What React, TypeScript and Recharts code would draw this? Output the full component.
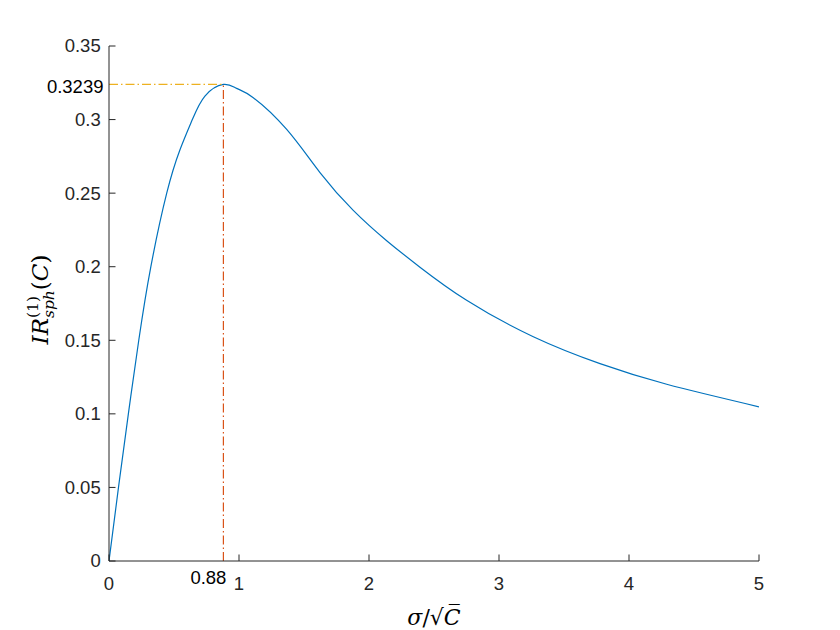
import React from 'react';
import { LineChart, Line, XAxis, YAxis, ReferenceLine } from 'recharts';

// values
const sigma = [0, 0.073, 0.149, 0.229, 0.322, 0.444, 0.546, 0.641, 0.738, 0.88, 0.982, 1.11, 1.367, 1.623, 1.879, 2.136, 2.392, 2.751, 3.264, 3.777, 4.29, 5];
const irValues = [0, 0.05, 0.1, 0.15, 0.2, 0.25, 0.2795, 0.3, 0.316, 0.3239, 0.3212, 0.3149, 0.2933, 0.264, 0.2383, 0.2177, 0.1997, 0.1772, 0.1524, 0.1341, 0.1201, 0.1048];

const xTicks = [0, 1, 2, 3, 4, 5];
const yTicks = [0, 0.05, 0.1, 0.15, 0.2, 0.25, 0.3, 0.35];
const peakX = 0.88;
const peakY = 0.3239;
const peakXLabel = '0.88';
const peakYLabel = '0.3239';

const data = sigma.map((s, i) => ({ x: s, y: irValues[i] }));

const axisColor = '#262626';
const tickFont = '"Liberation Sans", Arial, sans-serif';
const mathFont = '"DejaVu Serif", serif';
const tickLen = 6.5;
const fs = 18.5;

const BottomTick = (props: any) => {
  const { x, y, payload } = props;
  const v = payload.value;
  if (v === peakX) {
    return (
      <text x={x + 3} y={y + 23} textAnchor="end" fill="#000" fontSize={fs} fontFamily={tickFont}>
        {peakXLabel}
      </text>
    );
  }
  return (
    <g>
      <line x1={x} x2={x} y1={y} y2={y - tickLen} stroke={axisColor} />
      <text x={x} y={y + 29} textAnchor="middle" fill={axisColor} fontSize={fs} fontFamily={tickFont}>
        {String(v)}
      </text>
    </g>
  );
};

const LeftTick = (props: any) => {
  const { x, y, payload } = props;
  const v = payload.value;
  if (v === peakY) {
    return (
      <text x={x - 5.5} y={y + 2} dy="0.35em" textAnchor="end" fill="#000" fontSize={fs} fontFamily={tickFont}>
        {peakYLabel}
      </text>
    );
  }
  return (
    <g>
      <line x1={x} x2={x + tickLen} y1={y} y2={y} stroke={axisColor} />
      <text x={x - 8.3} y={y} dy="0.35em" textAnchor="end" fill={axisColor} fontSize={fs} fontFamily={tickFont}>
        {String(v)}
      </text>
    </g>
  );
};

const TopTick = (props: any) => {
  const { x, y } = props;
  return <line x1={x} x2={x} y1={y} y2={y + tickLen} stroke={axisColor} />;
};

const RightTick = (props: any) => {
  const { x, y } = props;
  return <line x1={x} x2={x - tickLen} y1={y} y2={y} stroke={axisColor} />;
};

const XLabel = (props: any) => {
  const vb = props.viewBox || { x: 109, y: 561, width: 650, height: 69 };
  const cx = vb.x + vb.width / 2;
  return (
    <text x={cx} y={vb.y + 64} textAnchor="middle" fill="#000" fontSize={22} fontFamily={mathFont}>
      <tspan fontStyle="italic">σ</tspan>
      <tspan>/√</tspan>
      <tspan fontStyle="italic">C̅</tspan>
    </text>
  );
};

const YLabel = (props: any) => {
  const vb = props.viewBox || { x: 0, y: 46, width: 109, height: 515 };
  const cx = vb.x + 40;
  const cy = vb.y + vb.height / 2 - 4;
  return (
    <text
      x={cx}
      y={cy}
      transform={`rotate(-90 ${cx} ${cy})`}
      textAnchor="middle"
      dy="0.35em"
      fill="#000"
      fontSize={23}
      fontFamily={mathFont}
    >
      <tspan fontStyle="italic">IR</tspan>
      <tspan fontSize={15.5} dy={-10}>(1)</tspan>
      <tspan fontSize={15.5} fontStyle="italic" dx={-22} dy={16}>sph</tspan>
      <tspan dy={-6}>(</tspan>
      <tspan fontStyle="italic">C</tspan>
      <tspan>)</tspan>
    </text>
  );
};

export default function App() {
  return (
    <div style={{ position: 'absolute', left: 0, top: 0, width: 840, height: 630, background: '#fff' }}>
      <LineChart width={840} height={630} data={data} margin={{ top: 46, right: 81, bottom: 0, left: 0 }}>
        <XAxis
          type="number"
          dataKey="x"
          domain={[0, 5]}
          ticks={[0, peakX, ...xTicks.slice(1)]}
          interval={0}
          height={69}
          tickSize={0}
          tickMargin={0}
          tickLine={false}
          stroke={axisColor}
          tick={<BottomTick />}
          label={{ content: <XLabel /> }}
          allowDataOverflow
        />
        <XAxis
          xAxisId="top"
          orientation="top"
          type="number"
          dataKey="x"
          domain={[0, 5]}
          ticks={xTicks}
          interval={0}
          height={0}
          tickSize={0}
          tickMargin={0}
          tickLine={false}
          stroke={axisColor}
          tick={<TopTick />}
        />
        <YAxis
          type="number"
          domain={[0, 0.35]}
          ticks={[...yTicks.slice(0, 7), peakY, yTicks[7]]}
          interval={0}
          width={109}
          tickSize={0}
          tickMargin={0}
          tickLine={false}
          stroke={axisColor}
          tick={<LeftTick />}
          label={{ content: <YLabel /> }}
          allowDataOverflow
        />
        <YAxis
          yAxisId="right"
          orientation="right"
          type="number"
          domain={[0, 0.35]}
          ticks={yTicks}
          interval={0}
          width={0}
          tickSize={0}
          tickMargin={0}
          tickLine={false}
          stroke={axisColor}
          tick={<RightTick />}
        />
        <Line
          type="natural"
          dataKey="y"
          stroke="#0072BD"
          strokeWidth={1.2}
          dot={false}
          activeDot={false}
          isAnimationActive={false}
        />
        <ReferenceLine
          segment={[{ x: 0, y: peakY }, { x: peakX, y: peakY }]}
          stroke="#EDB120"
          strokeWidth={1.2}
          strokeDasharray="9 3 1.5 3"
        />
        <ReferenceLine
          segment={[{ x: peakX, y: 0 }, { x: peakX, y: peakY }]}
          stroke="#D95319"
          strokeWidth={1.2}
          strokeDasharray="9 3 1.5 3"
        />
      </LineChart>
    </div>
  );
}
